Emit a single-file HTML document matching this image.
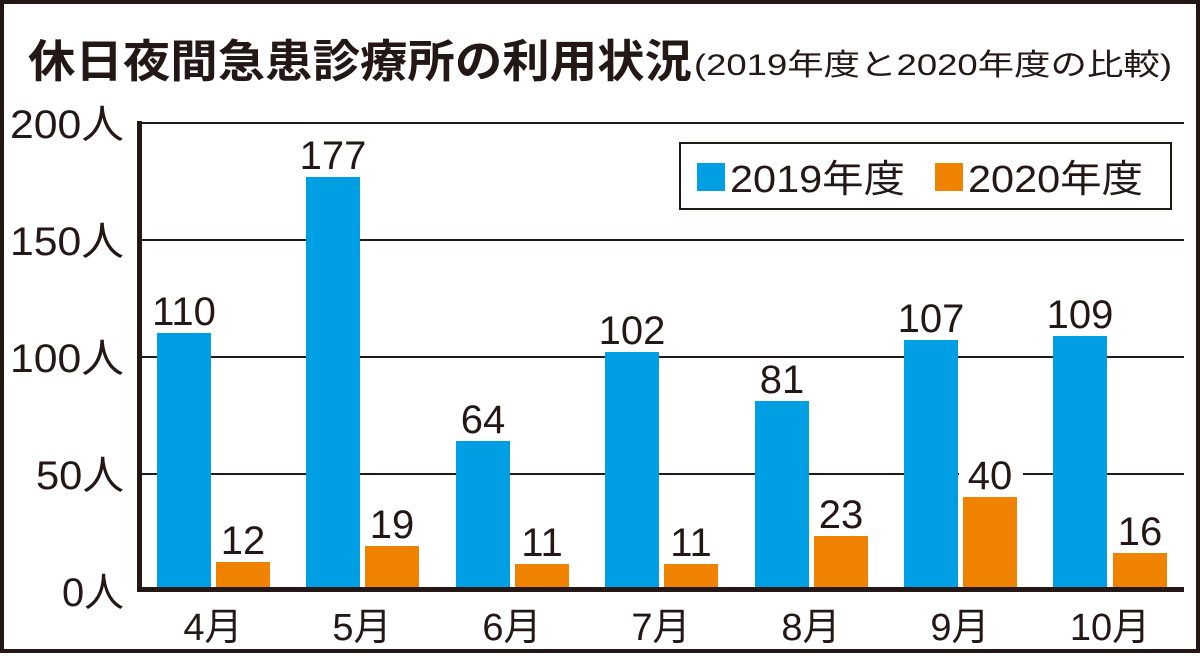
<!DOCTYPE html><html><head><meta charset="utf-8"><style>
body{margin:0;width:1200px;height:653px;overflow:hidden;background:#fff}
svg text{font-family:"Liberation Sans","Noto Sans CJK JP",sans-serif;fill:#231815}
</style></head><body>
<svg width="1200" height="653" viewBox="0 0 1200 653">
<rect x="2" y="2" width="1196" height="649" fill="#fff" stroke="#231815" stroke-width="4"/>
<text x="28" y="77" font-size="45" font-weight="bold" textLength="664" lengthAdjust="spacingAndGlyphs">休日夜間急患診療所の利用状況</text>
<text x="694" y="75" font-size="30" textLength="478" lengthAdjust="spacingAndGlyphs">(2019年度と2020年度の比較)</text>
<g stroke="#231815" stroke-width="2">
<line x1="137" y1="123" x2="1184" y2="123"/>
<line x1="137" y1="240" x2="1184" y2="240"/>
<line x1="137" y1="357" x2="1184" y2="357"/>
<line x1="137" y1="474" x2="1184" y2="474"/>
</g>
<g font-size="40" text-anchor="end">
<text x="124" y="138" textLength="114" lengthAdjust="spacingAndGlyphs">200人</text><text x="124" y="255" textLength="114" lengthAdjust="spacingAndGlyphs">150人</text><text x="124" y="372" textLength="114" lengthAdjust="spacingAndGlyphs">100人</text><text x="124" y="489" textLength="88" lengthAdjust="spacingAndGlyphs">50人</text><text x="124" y="606" textLength="62" lengthAdjust="spacingAndGlyphs">0人</text>
</g>
<rect x="959" y="460" width="64" height="30" fill="#fff"/>
<g fill="#009fe3">
<rect x="157" y="333" width="54" height="257"/><rect x="306" y="177" width="54" height="413"/><rect x="456" y="441" width="54" height="149"/><rect x="605" y="352" width="54" height="238"/><rect x="755" y="401" width="54" height="189"/><rect x="904" y="340" width="54" height="250"/><rect x="1053" y="336" width="54" height="254"/>
</g>
<g fill="#ef8200">
<rect x="216" y="562" width="54" height="28"/><rect x="365" y="546" width="54" height="44"/><rect x="515" y="564" width="54" height="26"/><rect x="664" y="564" width="54" height="26"/><rect x="814" y="536" width="54" height="54"/><rect x="963" y="497" width="54" height="93"/><rect x="1113" y="553" width="54" height="37"/>
</g>
<g font-size="40" text-anchor="middle">
<text x="184" y="325">110</text><text x="333" y="169">177</text><text x="483" y="433">64</text><text x="632" y="344">102</text><text x="782" y="393">81</text><text x="931" y="332">107</text><text x="1080" y="328">109</text>
<text x="243" y="554">12</text><text x="392" y="538">19</text><text x="542" y="556">11</text><text x="691" y="556">11</text><text x="841" y="528">23</text><text x="990" y="489">40</text><text x="1140" y="545">16</text>
</g>
<rect x="137" y="587" width="1047" height="5" fill="#231815"/>
<rect x="137" y="121" width="5" height="471" fill="#231815"/>
<g font-size="38" text-anchor="middle">
<text x="213" y="640">4月</text><text x="362" y="640">5月</text><text x="512" y="640">6月</text><text x="661" y="640">7月</text><text x="811" y="640">8月</text><text x="960" y="640">9月</text><text x="1110" y="640">10月</text>
</g>
<rect x="680" y="143" width="491" height="66" fill="#fff" stroke="#231815" stroke-width="2"/>
<rect x="697" y="163" width="28" height="28" fill="#009fe3"/>
<text x="730" y="192" font-size="38" textLength="175" lengthAdjust="spacingAndGlyphs">2019年度</text>
<rect x="935" y="163" width="28" height="28" fill="#ef8200"/>
<text x="968" y="192" font-size="38" textLength="175" lengthAdjust="spacingAndGlyphs">2020年度</text>
</svg>
</body></html>
